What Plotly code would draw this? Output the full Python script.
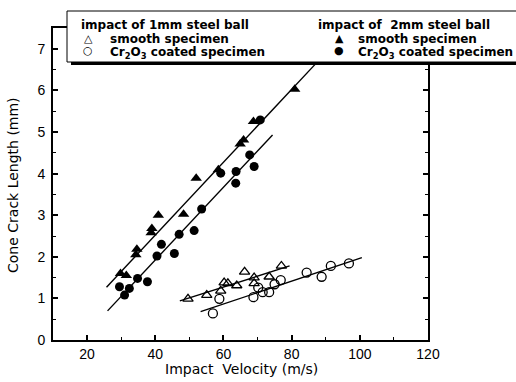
import plotly.graph_objects as go

# ---- data ----
# impact of 1mm steel ball
smooth_1mm_x = [49.6, 55.1, 59.2, 60.2, 61.3, 63.9, 66.2, 69.0, 69.0, 73.4, 77.0]
smooth_1mm_y = [0.99, 1.08, 1.18, 1.38, 1.36, 1.31, 1.64, 1.50, 1.36, 1.52, 1.78]
coated_1mm_x = [56.9, 58.8, 68.8, 70.2, 71.5, 73.4, 75.0, 76.8, 84.4, 88.8, 91.5, 96.8]
coated_1mm_y = [0.64, 0.99, 1.03, 1.26, 1.15, 1.15, 1.34, 1.44, 1.62, 1.52, 1.78, 1.84]
# impact of 2mm steel ball
smooth_2mm_x = [29.8, 31.5, 34.3, 34.6, 38.8, 39.0, 40.9, 48.3, 52.0, 58.5, 64.9, 65.9, 68.8, 80.9]
smooth_2mm_y = [1.60, 1.55, 2.05, 2.18, 2.58, 2.68, 3.00, 3.02, 3.89, 4.09, 4.71, 4.81, 5.25, 6.03]
coated_2mm_x = [29.5, 31.0, 32.4, 34.8, 37.7, 40.5, 41.8, 45.6, 47.0, 51.4, 53.6, 59.2, 63.6, 63.7, 67.7, 69.0, 70.8]
coated_2mm_y = [1.28, 1.08, 1.24, 1.48, 1.40, 2.02, 2.30, 2.08, 2.54, 2.63, 3.15, 4.01, 3.77, 4.05, 4.45, 4.17, 5.29]

# fitted lines (end points)
fit_smooth_1mm_x = [47.2, 79.4]
fit_smooth_1mm_y = [0.94, 1.78]
fit_coated_1mm_x = [53.3, 100.6]
fit_coated_1mm_y = [0.68, 1.98]
fit_smooth_2mm_x = [25.7, 87.5]
fit_smooth_2mm_y = [1.27, 6.68]
fit_coated_2mm_x = [26.0, 74.4]
fit_coated_2mm_y = [0.70, 4.93]

x_ticks = [20, 40, 60, 80, 100, 120]
y_ticks = [0, 1, 2, 3, 4, 5, 6, 7]

x_title = "Impact  Velocity (m/s)"
y_title = "Cone Crack Length (mm)"

W, H = 516, 382
L, R, T, B = 53, 428, 28, 340


def px(x):
    return (x - L) / (R - L)


def py(y):
    return (B - y) / (B - T)


fig = go.Figure()
line_style = dict(color="black", width=1.4)
for fx, fy in [(fit_smooth_1mm_x, fit_smooth_1mm_y), (fit_coated_1mm_x, fit_coated_1mm_y),
               (fit_smooth_2mm_x, fit_smooth_2mm_y), (fit_coated_2mm_x, fit_coated_2mm_y)]:
    fig.add_trace(go.Scatter(x=fx, y=fy, mode="lines", line=line_style,
                             hoverinfo="skip", showlegend=False))

fig.add_trace(go.Scatter(x=smooth_1mm_x, y=smooth_1mm_y, mode="markers", showlegend=False,
                         marker=dict(symbol="triangle-up-open", size=9, color="black",
                                     line=dict(width=1.3, color="black"))))
fig.add_trace(go.Scatter(x=coated_1mm_x, y=coated_1mm_y, mode="markers", showlegend=False,
                         marker=dict(symbol="circle-open", size=9, color="black",
                                     line=dict(width=1.3, color="black"))))
fig.add_trace(go.Scatter(x=smooth_2mm_x, y=smooth_2mm_y, mode="markers", showlegend=False,
                         marker=dict(symbol="triangle-up", size=10, color="black")))
fig.add_trace(go.Scatter(x=coated_2mm_x, y=coated_2mm_y, mode="markers", showlegend=False,
                         marker=dict(symbol="circle", size=9, color="black")))

font_tick = "Liberation Sans, Arial, sans-serif"
font_wide = "DejaVu Sans, sans-serif"

# legend box with drop shadow
fig.add_shape(type="rect", xref="paper", yref="paper", layer="above",
              x0=px(71), x1=px(530), y0=py(65), y1=py(14),
              fillcolor="black", line=dict(width=0))
fig.add_shape(type="rect", xref="paper", yref="paper", layer="above",
              x0=px(67), x1=px(525), y0=py(62), y1=py(11),
              fillcolor="white", line=dict(color="black", width=1))

lg_font = dict(family=font_wide, size=12, color="black", weight="bold")
sym_font = dict(family="DejaVu Sans", size=11, color="black")
coated_txt = "Cr<sub>2</sub>O<sub>3</sub> coated specimen"
legend_items = [
    ("impact of 1mm steel ball", 80, 25, lg_font, "left"),
    ("\u25B3", 88, 38, sym_font, "center"),
    ("smooth specimen", 109, 39, lg_font, "left"),
    ("\u25CB", 88, 51, sym_font, "center"),
    (coated_txt, 109, 53, lg_font, "left"),
    ("impact of  2mm steel ball", 317, 25, lg_font, "left"),
    ("\u25B2", 339, 38, sym_font, "center"),
    ("smooth specimen", 357, 39, lg_font, "left"),
    ("\u25CF", 339, 51, sym_font, "center"),
    (coated_txt, 357, 53, lg_font, "left"),
]
for txt, x, y, f, anc in legend_items:
    fig.add_annotation(text=txt, xref="paper", yref="paper", x=px(x), y=py(y),
                       xanchor=anc, yanchor="middle", showarrow=False,
                       font=f, borderpad=0)

# axis titles
title_font = dict(family=font_wide, size=14, color="black")
fig.add_annotation(text=x_title, xref="paper", yref="paper", x=px(241), y=py(369),
                   xanchor="center", yanchor="middle", showarrow=False, font=title_font)
fig.add_annotation(text=y_title, xref="paper", yref="paper", x=px(13), y=py(185),
                   xanchor="center", yanchor="middle", showarrow=False, font=title_font,
                   textangle=-90)

axis_common = dict(showline=True, linewidth=2, linecolor="black", mirror="ticks",
                   ticks="inside", ticklen=5, tickwidth=1.5, tickcolor="black",
                   showgrid=False, zeroline=False, automargin=False,
                   tickfont=dict(family=font_tick, size=14, color="black"))

fig.update_xaxes(range=[10, 120], tickvals=x_ticks, **axis_common,
                 minor=dict(ticks="inside", ticklen=3, dtick=10, tickcolor="black", tickwidth=1.2),
                 ticklabelstandoff=0)
fig.update_yaxes(range=[0, 7.5], tickvals=y_ticks, **axis_common,
                 minor=dict(ticks="inside", ticklen=3, dtick=0.5, tickcolor="black", tickwidth=1.2),
                 ticklabelstandoff=3)

fig.update_layout(width=W, height=H, margin=dict(l=L, r=W - R, t=T, b=H - B, autoexpand=False),
                  plot_bgcolor="white", paper_bgcolor="white", showlegend=False)

fig.write_html("out.html")
